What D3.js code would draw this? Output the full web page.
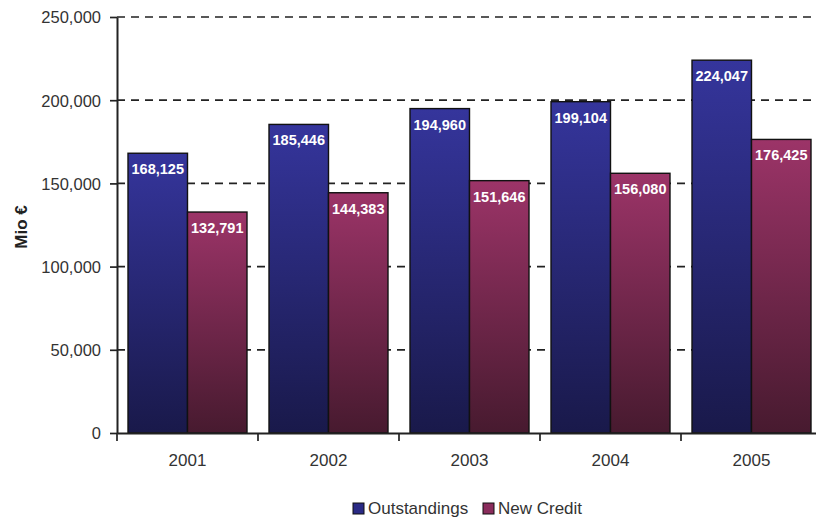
<!DOCTYPE html>
<html><head><meta charset="utf-8">
<script src="https://cdn.jsdelivr.net/npm/d3@7"></script>
<style>body{margin:0;background:#fff}svg{display:block;font-family:Arial,"Liberation Sans",sans-serif}</style>
</head><body>
<svg id="c" width="816" height="518"></svg>
<script>
const years = ["2001","2002","2003","2004","2005"];
const outstandings = [168125,185446,194960,199104,224047];
const newCredit = [132791,144383,151646,156080,176425];
const seriesNames = ["Outstandings","New Credit"];
const yTicks = [0,50000,100000,150000,200000,250000];

(function(){
const FONT = "Arial, 'Liberation Sans', sans-serif";
const svg = d3.select("#c");
const mLeft = 117, mRight = 822, mTop = 17, mBottom = 433;
const x = d3.scaleBand().domain(years).range([mLeft,mRight]).paddingInner(0).paddingOuter(0);
const y = d3.scaleLinear().domain([0,250000]).range([mBottom,mTop]);
const inner = d3.scaleBand().domain(seriesNames).range([0,x.bandwidth()]).paddingInner(0).paddingOuter(0.185);

const defs = svg.append("defs");
const grads = [["gO","#35359c","#19194a"],["gN","#9c3468","#471a2f"]];
grads.forEach(([id,c1,c2])=>{
  const g = defs.append("linearGradient").attr("id",id).attr("x1",0).attr("y1",0).attr("x2",0).attr("y2",1);
  g.append("stop").attr("offset","0%").attr("stop-color",c1);
  g.append("stop").attr("offset","100%").attr("stop-color",c2);
});

// gridlines
svg.append("g").selectAll("line").data(yTicks.filter(d=>d>0)).join("line")
  .attr("x1",mLeft).attr("x2",816).attr("y1",d=>y(d)).attr("y2",d=>y(d))
  .attr("stroke","#222").attr("stroke-width",1.7).attr("stroke-dasharray","8,6");

const fmt = d3.format(",");
const data = years.map((yr,i)=>({yr, vals:[{s:"Outstandings",v:outstandings[i],g:"gO"},{s:"New Credit",v:newCredit[i],g:"gN"}]}));
const grp = svg.append("g").selectAll("g").data(data).join("g").attr("transform",d=>`translate(${x(d.yr)},0)`);
grp.selectAll("rect").data(d=>d.vals).join("rect")
  .attr("x",d=>inner(d.s)).attr("width",inner.bandwidth())
  .attr("y",d=>y(d.v)).attr("height",d=>mBottom-y(d.v))
  .attr("fill",d=>`url(#${d.g})`).attr("stroke","#111").attr("stroke-width",1.4);
grp.selectAll("text").data(d=>d.vals).join("text")
  .attr("x",d=>inner(d.s)+inner.bandwidth()/2).attr("y",d=>y(d.v)+21)
  .attr("text-anchor","middle").attr("fill","#fff").attr("font-weight","bold").attr("font-size",14.5)
  .attr("font-family",FONT)
  .text(d=>fmt(d.v));

// y axis
const ya = svg.append("g").attr("transform",`translate(${mLeft},0)`)
  .call(d3.axisLeft(y).tickValues(yTicks).tickFormat(fmt).tickSize(7).tickSizeOuter(0));
ya.select(".domain").attr("stroke","#222").attr("stroke-width",2);
ya.selectAll(".tick line").attr("stroke","#222").attr("stroke-width",1.7);
ya.selectAll(".tick text").attr("font-size",16.5).attr("fill","#333").attr("font-family",FONT).attr("x",-16).attr("dy","0.36em");

// x axis
const xa = svg.append("g").attr("transform",`translate(0,${mBottom})`)
  .call(d3.axisBottom(x).tickSize(0).tickSizeOuter(0));
xa.select(".domain").attr("stroke","#222").attr("stroke-width",2);
xa.selectAll(".tick text").attr("font-size",17).attr("fill","#333").attr("y",21).attr("dy","0.71em").attr("font-family",FONT);
svg.append("g").selectAll("line").data(years).join("line")
  .attr("x1",d=>Math.round(x(d))).attr("x2",d=>Math.round(x(d))).attr("y1",mBottom).attr("y2",mBottom+8)
  .attr("stroke","#222").attr("stroke-width",1.7);

// y title
svg.append("text").attr("transform","translate(27,227) rotate(-90)").attr("text-anchor","middle")
  .attr("font-size",17).attr("font-weight","bold").attr("fill","#222").attr("font-family",FONT).text("Mio €");

// legend
const leg = svg.append("g");
const items = [{n:"Outstandings",c:"#2a2a85",x:353},{n:"New Credit",c:"#8a2c5c",x:483}];
items.forEach(it=>{
  leg.append("rect").attr("x",it.x).attr("y",503).attr("width",11).attr("height",11).attr("fill",it.c).attr("stroke","#111").attr("stroke-width",1);
  leg.append("text").attr("x",it.x+15).attr("y",514).attr("font-size",17).attr("fill","#333").attr("font-family",FONT).text(it.n);
});
})();
</script>
</body></html>
